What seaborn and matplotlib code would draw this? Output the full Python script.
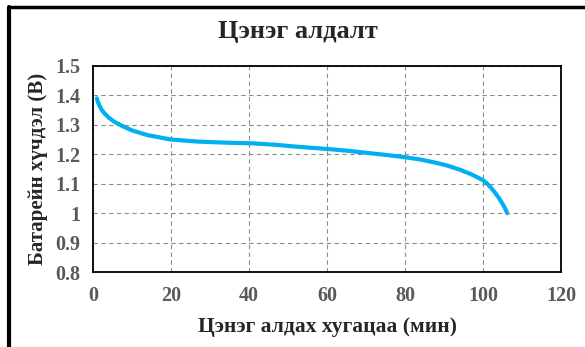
import seaborn as sns
import numpy as np
import pandas as pd
import matplotlib.pyplot as plt
from matplotlib.lines import Line2D

# discharge curve
time_min = [1, 1.2, 1.5, 2, 2.5, 3, 4, 5.5, 7.5, 10, 14, 20, 27, 35, 41, 47, 52, 57,
            61, 66, 70, 75, 80, 84, 88, 91, 94, 97, 100, 101, 102, 103, 104, 105,
            105.7, 106.2]
voltage = [1.39, 1.38, 1.37, 1.356, 1.346, 1.338, 1.325, 1.31, 1.296, 1.281, 1.265,
           1.25, 1.243, 1.239, 1.237, 1.232, 1.226, 1.221, 1.217, 1.211, 1.205,
           1.198, 1.19, 1.182, 1.171, 1.161, 1.148, 1.132, 1.112, 1.101, 1.087,
           1.071, 1.053, 1.032, 1.015, 1.0]
x_ticks = [0, 20, 40, 60, 80, 100, 120]
y_ticks = [0.8, 0.9, 1.0, 1.1, 1.2, 1.3, 1.4, 1.5]
y_labels = ['0.8', '0.9', '1', '1.1', '1.2', '1.3', '1.4', '1.5']

sns.set_style("white")
plt.rcParams['font.family'] = ['Liberation Serif', 'DejaVu Serif']
plt.rcParams['font.weight'] = 'bold'

df = pd.DataFrame({'time': time_min, 'volt': voltage})

fig, ax = plt.subplots(figsize=(5.85, 3.47), dpi=100)
fig.subplots_adjust(left=0.159, right=0.959, top=0.81, bottom=0.216)

sns.lineplot(x='time', y='volt', data=df, color='#00B0F0', linewidth=3.0, ax=ax)

ax.set_xlim(0, 120)
ax.set_ylim(0.8, 1.5)
ax.set_xticks(x_ticks, labels=[str(t) for t in x_ticks], fontweight='bold',
              fontsize=14.5, color='#595959')
ax.set_yticks(y_ticks, labels=y_labels, fontweight='bold', fontsize=14.5,
              color='#595959')
ax.tick_params(length=0)
ax.tick_params(axis='x', pad=10)
ax.tick_params(axis='y', pad=9)

ax.grid(True, linestyle=(0, (4, 3)), color='#8c8c8c', linewidth=0.8)
for sp in ax.spines.values():
    sp.set_visible(True)
    sp.set_color('black')
    sp.set_linewidth(1.3)

ax.set_xlabel('Цэнэг алдах хугацаа (мин)', fontsize=15.5, fontweight='bold', labelpad=8)
ax.set_ylabel('Батарейн хүчдэл (В)', fontsize=15, fontweight='bold', labelpad=5)
fig.text(0.51, 0.91, 'Цэнэг алдалт', ha='center', va='center',
         fontsize=19, fontweight='bold')

# outer chart frame (left and top edges visible)
fig.add_artist(Line2D([9 / 585, 9 / 585], [0, 1 - 6.5 / 347], color='black',
                      linewidth=3, transform=fig.transFigure))
fig.add_artist(Line2D([9 / 585, 1], [1 - 6.5 / 347, 1 - 6.5 / 347], color='black',
                      linewidth=2.5, transform=fig.transFigure))

fig.savefig('out.png', dpi=100)
